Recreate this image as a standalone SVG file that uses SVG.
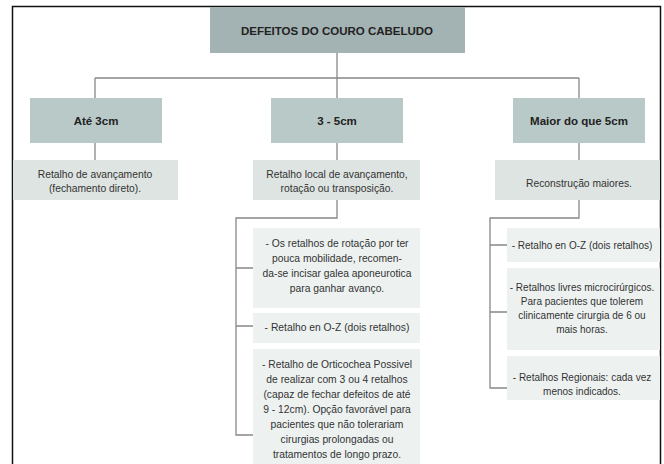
<svg xmlns="http://www.w3.org/2000/svg" width="664" height="464" viewBox="0 0 664 464">
<style>
text{font-family:"Liberation Sans","Open Sans",sans-serif;fill:#333;text-anchor:middle}
.t{font-size:11.5px;font-weight:bold;fill:#222}
.s{font-size:10.3px}
.r{font-size:10px}
.c{fill:none;stroke:#888;stroke-width:1.3}
.n0{fill:#a3b3b3}
.n1{fill:#b9c9c7}
.n2{fill:#dee4e1}
.n3{fill:#edf2f1}
</style>
<rect x="0" y="0" width="664" height="464" fill="#fff"/>
<g id="connectors">
<path class="c" d="M337 53V98M95 78H579M95 78V98M579 78V98"/>
<path class="c" d="M95 143V160M337 143V160M579 143V160"/>
<path class="c" d="M337 200V218H236V435H253M236 268H253M236 326H253"/>
<path class="c" d="M579 200V218H490V388H507M490 245H507M490 312H507"/>
</g>
<g id="frame"><path d="M12.5 480V6.5H660.5V480" fill="none" stroke="#111" stroke-width="1.5"/></g>
<g id="root"><rect class="n0" x="210" y="7" width="255" height="46"/><text class="t" x="337" y="35">DEFEITOS DO COURO CABELUDO</text></g>
<g id="ate3"><rect class="n1" x="30" y="98" width="132" height="45"/><text class="t" x="96" y="125">Até 3cm</text></g>
<g id="3a5"><rect class="n1" x="271" y="98" width="132" height="45"/><text class="t" x="337" y="125">3 - 5cm</text></g>
<g id="maior5"><rect class="n1" x="513" y="98" width="132" height="45"/><text class="t" x="579" y="125">Maior do que 5cm</text></g>
<g id="avanco"><rect class="n2" x="13" y="160" width="165" height="40"/><text class="s" x="95" y="178">Retalho de avançamento</text><text class="s" x="95" y="192">(fechamento direto).</text></g>
<g id="local"><rect class="n2" x="253" y="160" width="167" height="40"/><text class="s" x="337" y="178">Retalho local de avançamento,</text><text class="s" x="337" y="192">rotação ou transposição.</text></g>
<g id="reconst"><rect class="n2" x="495" y="160" width="165" height="40"/><text class="s" x="579" y="187">Reconstrução maiores.</text></g>
<g id="rotacao"><rect class="n3" x="253" y="228" width="167" height="80"/><text class="s" x="337" y="247">- Os retalhos de rotação por ter</text><text class="s" x="337" y="262">pouca mobilidade, recomen-</text><text class="s" x="337" y="277">da-se incisar galea aponeurotica</text><text class="s" x="337" y="292">para ganhar avanço.</text></g>
<g id="oz1"><rect class="n3" x="253" y="313" width="167" height="30"/><text class="s" x="337" y="331">- Retalho en O-Z (dois retalhos)</text></g>
<g id="orticochea"><rect class="n3" x="253" y="349" width="167" height="120"/><text class="s" x="337" y="368">- Retalho de Orticochea Possivel</text><text class="s" x="337" y="383">de realizar com 3 ou 4 retalhos</text><text class="s" x="337" y="398">(capaz de fechar defeitos de até</text><text class="s" x="337" y="413">9 - 12cm). Opção favorável para</text><text class="s" x="337" y="428">pacientes que não tolerariam</text><text class="s" x="337" y="443">cirurgias prolongadas ou</text><text class="s" x="337" y="458">tratamentos de longo prazo.</text></g>
<g id="oz2"><rect class="n3" x="507" y="228" width="153" height="34"/><text class="r" x="582" y="249">- Retalho en O-Z (dois retalhos)</text></g>
<g id="livres"><rect class="n3" x="507" y="268" width="153" height="82"/><text class="r" x="582" y="291">- Retalhos livres microcirúrgicos.</text><text class="r" x="582" y="305">Para pacientes que tolerem</text><text class="r" x="582" y="319">clinicamente cirurgia de 6 ou</text><text class="r" x="582" y="333">mais horas.</text></g>
<g id="regionais"><rect class="n3" x="507" y="356" width="153" height="44"/><text class="r" x="582" y="381">- Retalhos Regionais: cada vez</text><text class="r" x="582" y="395">menos indicados.</text></g>
</svg>
